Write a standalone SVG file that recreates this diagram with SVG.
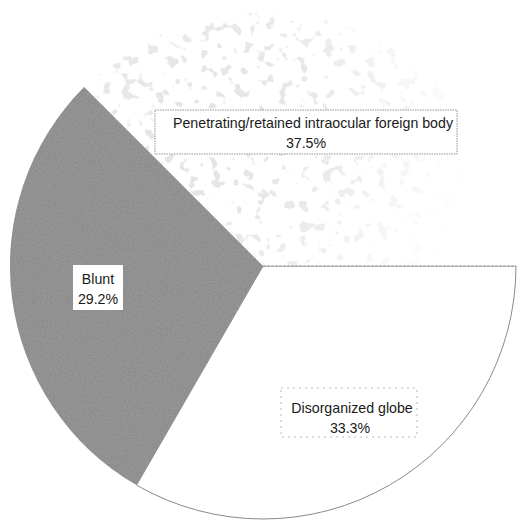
<svg xmlns="http://www.w3.org/2000/svg" width="517" height="523" viewBox="0 0 517 523">
  <defs>
    <filter id="speck" x="0" y="0" width="100%" height="100%">
      <feTurbulence type="fractalNoise" baseFrequency="0.09" numOctaves="2" seed="7" result="n"/>
      <feColorMatrix in="n" type="matrix" values="0 0 0 0 0.72  0 0 0 0 0.72  0 0 0 0 0.72  14 0 0 0 -8.4"/>
      <feComposite in2="SourceGraphic" operator="in"/>
    </filter>
    <filter id="grain" x="0" y="0" width="100%" height="100%">
      <feTurbulence type="fractalNoise" baseFrequency="0.6" numOctaves="2" seed="2" result="n"/>
      <feColorMatrix in="n" type="matrix" values="0 0 0 0 0.35  0 0 0 0 0.35  0 0 0 0 0.35  1.2 0 0 0 -0.35"/>
      <feComposite in2="SourceGraphic" operator="in"/>
    </filter>
    <radialGradient id="fade" gradientUnits="userSpaceOnUse" cx="210" cy="130" r="260">
      <stop offset="0" stop-color="#fff" stop-opacity="1"/>
      <stop offset="0.45" stop-color="#fff" stop-opacity="0.8"/>
      <stop offset="1" stop-color="#fff" stop-opacity="0"/>
    </radialGradient>
    <mask id="speckmask" maskUnits="userSpaceOnUse" x="0" y="0" width="517" height="523">
      <rect width="517" height="523" fill="url(#fade)"/>
    </mask>
    <style>
      .lbl { font-family: "Liberation Sans", Arial, sans-serif; font-size: 14.2px; fill: #1a1a1a; text-anchor: middle; }
      .box { fill: #ffffff; }
    </style>
  </defs>
  <rect width="517" height="523" fill="#ffffff"/>

  <g id="slice-disorganized">
    <path d="M263,266 L516,266 A253,253 0 0 1 136.5,485.1 Z" fill="#ffffff" stroke="#8a8a8a" stroke-width="1"/>
  </g>
  <g id="slice-penetrating">
    <path d="M263,266 L84.1,87.1 A253,253 0 0 1 516,266 Z" fill="#ffffff"/>
    <g mask="url(#speckmask)">
      <path d="M263,266 L84.1,87.1 A253,253 0 0 1 516,266 Z" fill="#000" filter="url(#speck)" opacity="0.8"/>
    </g>
  </g>
  <g id="slice-blunt">
    <path d="M263,266 L136.5,485.1 A253,253 0 0 1 84.1,87.1 Z" fill="#8c8c8c"/>
    <path d="M263,266 L136.5,485.1 A253,253 0 0 1 84.1,87.1 Z" fill="#000" filter="url(#grain)"/>
  </g>

  <g id="connectors">
    <line x1="263" y1="266" x2="516" y2="266" stroke="#8a8a8a" stroke-width="1" stroke-dasharray="3,1"/>
  </g>

  <g id="label-penetrating">
    <rect class="box" x="155" y="110" width="302" height="44" stroke="#777" stroke-width="0.8" stroke-dasharray="1.5,1"/>
    <text class="lbl" x="313" y="128">Penetrating/retained intraocular foreign body</text>
    <text class="lbl" x="306" y="148">37.5%</text>
  </g>
  <g id="label-blunt">
    <rect class="box" x="73" y="265" width="50" height="45"/>
    <text class="lbl" x="98" y="284">Blunt</text>
    <text class="lbl" x="98" y="304">29.2%</text>
  </g>
  <g id="label-disorganized">
    <rect class="box" x="281" y="388" width="136" height="49" stroke="#aaa" stroke-width="0.8" stroke-dasharray="2,4"/>
    <text class="lbl" x="352" y="413">Disorganized globe</text>
    <text class="lbl" x="350" y="433">33.3%</text>
  </g>
</svg>
